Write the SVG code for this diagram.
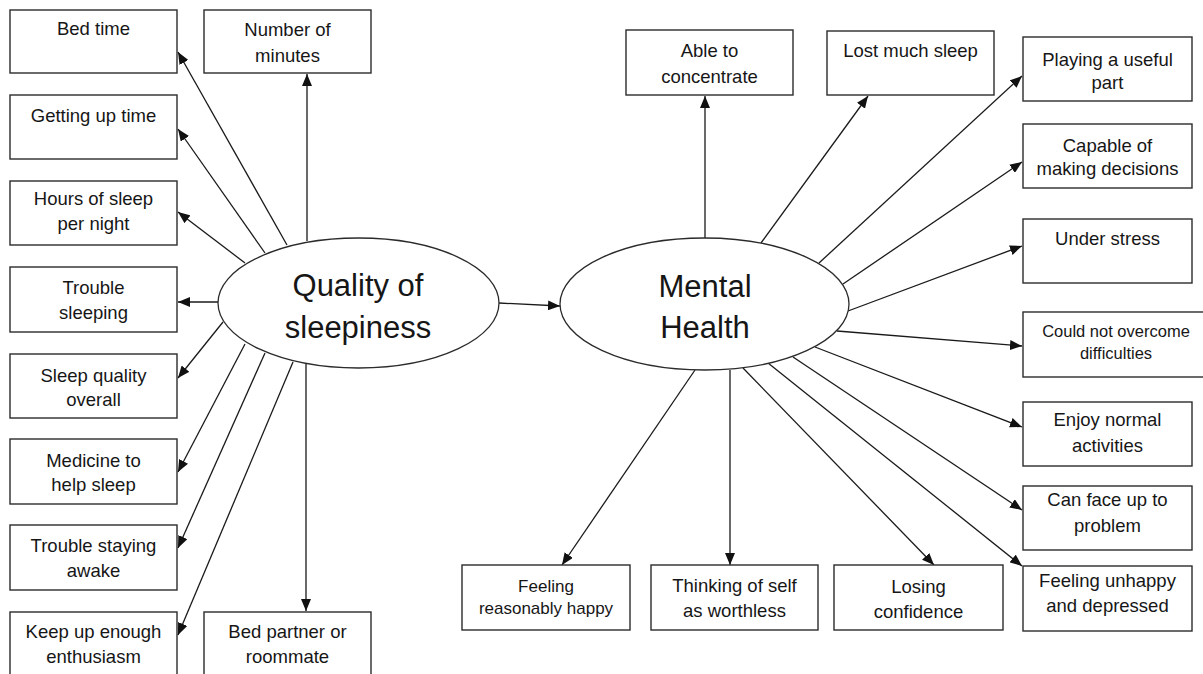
<svg xmlns="http://www.w3.org/2000/svg" width="1203" height="674" viewBox="0 0 1203 674">
  <style>
    .box { fill: #ffffff; stroke: #2b2b2b; stroke-width: 1.4; }
    .hub { fill: #ffffff; stroke: #2b2b2b; stroke-width: 1.3; }
    .lbl { font-family: "Liberation Sans", Arial, sans-serif; font-size: 18.5px; fill: #161616; text-anchor: middle; }
    .big { font-family: "Liberation Sans", Arial, sans-serif; font-size: 31px; fill: #161616; text-anchor: middle; }
    .edge { stroke: #1a1a1a; stroke-width: 1.3; fill: none; marker-end: url(#ah); }
  </style>
  <defs>
    <marker id="ah" viewBox="0 0 12 10" refX="12" refY="5" markerWidth="12" markerHeight="10" markerUnits="userSpaceOnUse" orient="auto">
      <path d="M0,0 L12,5 L0,10 z" fill="#111111"/>
    </marker>
  </defs>
  <rect width="1203" height="674" fill="#ffffff"/>

  <!-- connectors -->
  <g id="connectors">
    <line class="edge" x1="287" y1="245" x2="178" y2="52"/>
    <line class="edge" x1="307" y1="241" x2="307" y2="74"/>
    <line class="edge" x1="265" y1="253" x2="178" y2="129"/>
    <line class="edge" x1="245" y1="263" x2="178" y2="212"/>
    <line class="edge" x1="218" y1="302" x2="178" y2="302"/>
    <line class="edge" x1="223" y1="322" x2="178" y2="378"/>
    <line class="edge" x1="245" y1="344" x2="178" y2="472"/>
    <line class="edge" x1="265" y1="353" x2="178" y2="548"/>
    <line class="edge" x1="293" y1="362" x2="178" y2="635"/>
    <line class="edge" x1="306" y1="364" x2="306" y2="611"/>
    <line class="edge" x1="499" y1="303" x2="560" y2="306"/>
    <line class="edge" x1="705" y1="238" x2="705" y2="96"/>
    <line class="edge" x1="761" y1="243" x2="868" y2="96"/>
    <line class="edge" x1="819" y1="263" x2="1022" y2="76"/>
    <line class="edge" x1="843" y1="284" x2="1022" y2="162"/>
    <line class="edge" x1="848" y1="311" x2="1022" y2="246"/>
    <line class="edge" x1="837" y1="331" x2="1022" y2="346"/>
    <line class="edge" x1="815" y1="347" x2="1022" y2="427"/>
    <line class="edge" x1="793" y1="357" x2="1022" y2="510"/>
    <line class="edge" x1="768" y1="363" x2="1022" y2="566"/>
    <line class="edge" x1="743" y1="368" x2="934" y2="565"/>
    <line class="edge" x1="730" y1="370" x2="730" y2="565"/>
    <line class="edge" x1="695" y1="370" x2="562" y2="565"/>
  </g>

  <!-- hubs -->
  <g id="quality">
    <ellipse class="hub" cx="358.5" cy="303" rx="140.5" ry="65"/>
    <text class="big" x="358" y="296">Quality of</text>
    <text class="big" x="358" y="338">sleepiness</text>
  </g>
  <g id="mental">
    <ellipse class="hub" cx="704.5" cy="304" rx="144.5" ry="66"/>
    <text class="big" x="705" y="297">Mental</text>
    <text class="big" x="705" y="338">Health</text>
  </g>

  <!-- sleep items -->
  <g id="bed-time">
    <rect class="box" x="10" y="10" width="167" height="63"/>
    <text class="lbl" x="93.5" y="35">Bed time</text>
  </g>
  <g id="number-of-minutes">
    <rect class="box" x="204" y="10" width="167" height="63"/>
    <text class="lbl" x="287.5" y="36">Number of</text>
    <text class="lbl" x="287.5" y="62">minutes</text>
  </g>
  <g id="getting-up-time">
    <rect class="box" x="10" y="95" width="167" height="64"/>
    <text class="lbl" x="93.5" y="122">Getting up time</text>
  </g>
  <g id="hours-of-sleep">
    <rect class="box" x="10" y="181" width="167" height="64"/>
    <text class="lbl" x="93.5" y="205">Hours of sleep</text>
    <text class="lbl" x="93.5" y="230">per night</text>
  </g>
  <g id="trouble-sleeping">
    <rect class="box" x="10" y="267" width="167" height="65"/>
    <text class="lbl" x="93.5" y="294">Trouble</text>
    <text class="lbl" x="93.5" y="319">sleeping</text>
  </g>
  <g id="sleep-quality">
    <rect class="box" x="10" y="354" width="167" height="64"/>
    <text class="lbl" x="93.5" y="382">Sleep quality</text>
    <text class="lbl" x="93.5" y="406">overall</text>
  </g>
  <g id="medicine">
    <rect class="box" x="10" y="439" width="167" height="65"/>
    <text class="lbl" x="93.5" y="467">Medicine to</text>
    <text class="lbl" x="93.5" y="491">help sleep</text>
  </g>
  <g id="trouble-staying-awake">
    <rect class="box" x="10" y="525" width="167" height="65"/>
    <text class="lbl" x="93.5" y="552">Trouble staying</text>
    <text class="lbl" x="93.5" y="577">awake</text>
  </g>
  <g id="keep-up-enthusiasm">
    <rect class="box" x="10" y="612" width="167" height="66"/>
    <text class="lbl" x="93.5" y="638">Keep up enough</text>
    <text class="lbl" x="93.5" y="663">enthusiasm</text>
  </g>
  <g id="bed-partner">
    <rect class="box" x="204" y="612" width="167" height="66"/>
    <text class="lbl" x="287.5" y="638">Bed partner or</text>
    <text class="lbl" x="287.5" y="663">roommate</text>
  </g>

  <!-- mental health items -->
  <g id="able-to-concentrate">
    <rect class="box" x="626" y="30" width="167" height="65"/>
    <text class="lbl" x="709.5" y="57">Able to</text>
    <text class="lbl" x="709.5" y="83">concentrate</text>
  </g>
  <g id="lost-much-sleep">
    <rect class="box" x="827" y="31" width="167" height="64"/>
    <text class="lbl" x="910.5" y="57">Lost much sleep</text>
  </g>
  <g id="playing-useful-part">
    <rect class="box" x="1023" y="37" width="169" height="64"/>
    <text class="lbl" x="1107.5" y="66">Playing a useful</text>
    <text class="lbl" x="1107.5" y="89">part</text>
  </g>
  <g id="capable-decisions">
    <rect class="box" x="1023" y="124" width="169" height="64"/>
    <text class="lbl" x="1107.5" y="152">Capable of</text>
    <text class="lbl" x="1107.5" y="175">making decisions</text>
  </g>
  <g id="under-stress">
    <rect class="box" x="1023" y="219" width="169" height="64"/>
    <text class="lbl" x="1107.5" y="245">Under stress</text>
  </g>
  <g id="could-not-overcome">
    <rect class="box" x="1023" y="312" width="190" height="65"/>
    <text class="lbl" x="1116" y="337" style="font-size:16.5px">Could not overcome</text>
    <text class="lbl" x="1116" y="359" style="font-size:16.5px">difficulties</text>
  </g>
  <g id="enjoy-normal-activities">
    <rect class="box" x="1023" y="402" width="169" height="64"/>
    <text class="lbl" x="1107.5" y="426">Enjoy normal</text>
    <text class="lbl" x="1107.5" y="452">activities</text>
  </g>
  <g id="can-face-problem">
    <rect class="box" x="1023" y="486" width="169" height="64"/>
    <text class="lbl" x="1107.5" y="506">Can face up to</text>
    <text class="lbl" x="1107.5" y="532">problem</text>
  </g>
  <g id="feeling-unhappy">
    <rect class="box" x="1023" y="566" width="169" height="65"/>
    <text class="lbl" x="1107.5" y="587">Feeling unhappy</text>
    <text class="lbl" x="1107.5" y="612">and depressed</text>
  </g>
  <g id="losing-confidence">
    <rect class="box" x="834" y="565" width="169" height="65"/>
    <text class="lbl" x="918.5" y="593">Losing</text>
    <text class="lbl" x="918.5" y="618">confidence</text>
  </g>
  <g id="thinking-worthless">
    <rect class="box" x="651" y="565" width="167" height="65"/>
    <text class="lbl" x="734.5" y="592">Thinking of self</text>
    <text class="lbl" x="734.5" y="617">as worthless</text>
  </g>
  <g id="feeling-happy">
    <rect class="box" x="462" y="565" width="168" height="65"/>
    <text class="lbl" x="546" y="592" style="font-size:17px">Feeling</text>
    <text class="lbl" x="546" y="614" style="font-size:17px">reasonably happy</text>
  </g>
</svg>
